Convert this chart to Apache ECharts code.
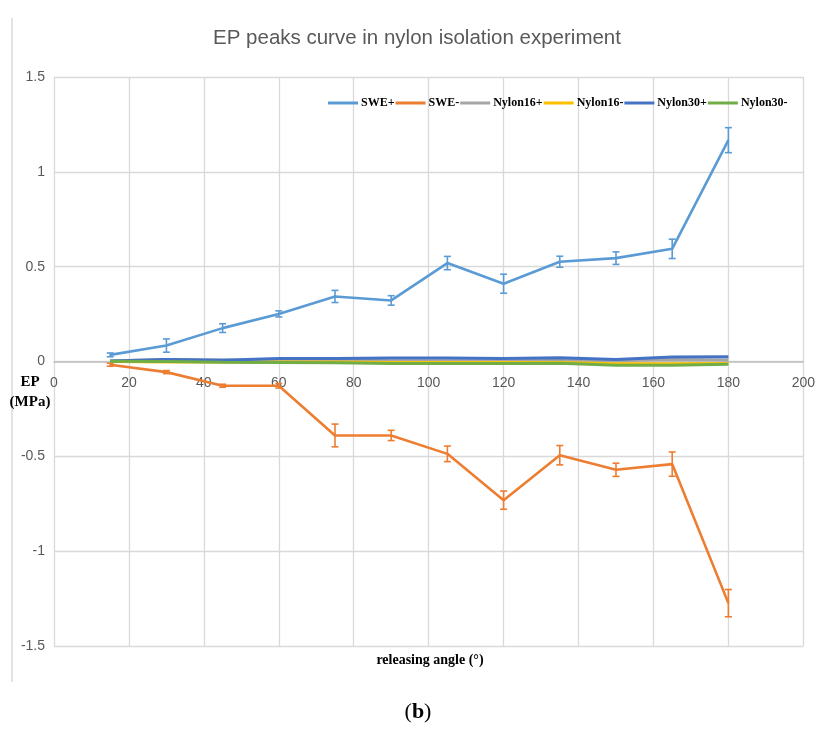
<!DOCTYPE html>
<html>
<head>
<meta charset="utf-8">
<script src="https://cdn.jsdelivr.net/npm/echarts@6/dist/echarts.min.js"></script>
<style>html,body{margin:0;padding:0;background:#fff;}#c{width:818px;height:740px;}</style>
</head>
<body>
<div id="c"></div>
<script>
const angles = [15, 30, 45, 60, 75, 90, 105, 120, 135, 150, 165, 180];
const swePlus = [0.035, 0.084, 0.176, 0.251, 0.343, 0.322, 0.519, 0.410, 0.526, 0.545, 0.594, 1.167];
const swePlusErr = [0.010, 0.035, 0.023, 0.016, 0.032, 0.025, 0.035, 0.050, 0.029, 0.033, 0.051, 0.066];
const sweMinus = [-0.017, -0.056, -0.128, -0.128, -0.390, -0.390, -0.487, -0.731, -0.494, -0.571, -0.541, -1.274];
const sweMinusErr = [0.008, 0.008, 0.008, 0.012, 0.060, 0.027, 0.041, 0.048, 0.051, 0.035, 0.064, 0.072];
const nylon16Plus = [0.002, 0.010, 0.008, 0.006, 0.008, 0.004, 0.004, 0.004, 0.006, 0.004, 0.010, 0.008];
const nylon16Minus = [0.000, -0.002, -0.002, -0.003, -0.003, -0.005, -0.005, -0.005, -0.005, -0.012, -0.012, -0.010];
const nylon30Plus = [0.003, 0.010, 0.006, 0.016, 0.016, 0.018, 0.018, 0.016, 0.020, 0.010, 0.024, 0.025];
const nylon30Minus = [0.001, 0.000, -0.004, -0.005, -0.007, -0.010, -0.010, -0.010, -0.009, -0.020, -0.020, -0.014];
const seriesNames = ['SWE+', 'SWE-', 'Nylon16+', 'Nylon16-', 'Nylon30+', 'Nylon30-'];
const colors = ['#5B9BD5', '#ED7D31', '#A5A5A5', '#FFC000', '#4472C4', '#70AD47'];
const titleText = 'EP peaks curve in nylon isolation experiment';
const xName = 'releasing angle (°)';
const yName = ['EP', '(MPa)'];

const Y_MIN = -1.5, Y_MAX = 1.5;
const GRID_TOP = 77, GRID_BOTTOM = 94, CH = 740;
const plotH = CH - GRID_TOP - GRID_BOTTOM;
const zeroOffset = -plotH * (0 - Y_MIN) / (Y_MAX - Y_MIN);

const pairs = (ys) => angles.map((a, i) => [a, ys[i]]);
const errData = (ys, es) => angles.map((a, i) => [a, ys[i], es[i]]);

function errRender(color) {
  return function (params, api) {
    const x = api.value(0), y = api.value(1), e = api.value(2);
    const top = api.coord([x, y + e]);
    const bot = api.coord([x, y - e]);
    const w = 3.5;
    const st = { stroke: color, lineWidth: 1.6 };
    return {
      type: 'group',
      children: [
        { type: 'line', shape: { x1: top[0], y1: top[1], x2: bot[0], y2: bot[1] }, style: st },
        { type: 'line', shape: { x1: top[0] - w, y1: top[1], x2: top[0] + w, y2: top[1] }, style: st },
        { type: 'line', shape: { x1: bot[0] - w, y1: bot[1], x2: bot[0] + w, y2: bot[1] }, style: st }
      ]
    };
  };
}

const lineData = [swePlus, sweMinus, nylon16Plus, nylon16Minus, nylon30Plus, nylon30Minus];
const series = [];
lineData.forEach((ys, k) => {
  series.push({
    name: seriesNames[k], type: 'line', data: pairs(ys), symbol: 'none',
    color: colors[k],
    lineStyle: { width: k < 2 ? 2.6 : 3, color: colors[k] },
    z: 3 + k, animation: false
  });
});
series.push({ name: 'SWE+ err', type: 'custom', data: errData(swePlus, swePlusErr), renderItem: errRender(colors[0]), z: 3, animation: false });
series.push({ name: 'SWE- err', type: 'custom', data: errData(sweMinus, sweMinusErr), renderItem: errRender(colors[1]), z: 4, animation: false });

const chart = echarts.init(document.getElementById('c'), null, { renderer: 'canvas' });
chart.setOption({
  animation: false,
  backgroundColor: '#fff',
  grid: { left: 54, right: 9, top: GRID_TOP, bottom: GRID_BOTTOM, containLabel: false },
  legend: {
    data: seriesNames, left: 323, top: 92, itemWidth: 30, itemHeight: 3, itemGap: 1,
    icon: 'rect', selectedMode: false,
    textStyle: { fontFamily: 'Liberation Serif', fontWeight: 'bold', fontSize: 12, color: '#000', padding: [0, 0, 0, -2] }
  },
  xAxis: {
    type: 'value', min: 0, max: 200, interval: 20,
    offset: zeroOffset, position: 'bottom',
    axisLine: { show: true, onZero: false, lineStyle: { color: '#BFBFBF', width: 1.5 } },
    axisTick: { show: false },
    axisLabel: { color: '#595959', fontFamily: 'Liberation Sans', fontSize: 14, margin: 15 },
    splitLine: { show: true, lineStyle: { color: '#D9D9D9', width: 1.3 } }
  },
  yAxis: {
    type: 'value', min: Y_MIN, max: Y_MAX, interval: 0.5,
    axisLine: { show: false }, axisTick: { show: false },
    axisLabel: { color: '#595959', fontFamily: 'Liberation Sans', fontSize: 14, margin: 9 },
    splitLine: { show: true, lineStyle: { color: '#D9D9D9', width: 1.3 } }
  },
  graphic: [
    { type: 'line', shape: { x1: 12, y1: 18, x2: 12, y2: 682 }, style: { stroke: '#D0D0D0', lineWidth: 1.2 }, silent: true },
    { type: 'text', x: 417, y: 38, style: { text: titleText, textAlign: 'center', textVerticalAlign: 'middle', fontFamily: 'Liberation Sans', fontSize: 20.5, fill: '#595959' } },
    { type: 'text', x: 30, y: 382, style: { text: yName[0], textAlign: 'center', textVerticalAlign: 'middle', fontFamily: 'Liberation Serif', fontWeight: 'bold', fontSize: 15, fill: '#000' } },
    { type: 'text', x: 30, y: 402, style: { text: yName[1], textAlign: 'center', textVerticalAlign: 'middle', fontFamily: 'Liberation Serif', fontWeight: 'bold', fontSize: 15, fill: '#000' } },
    { type: 'text', x: 430, y: 660, style: { text: xName, textAlign: 'center', textVerticalAlign: 'middle', fontFamily: 'Liberation Serif', fontWeight: 'bold', fontSize: 14, fill: '#000' } },
    { type: 'text', x: 418, y: 712, style: { text: '{n|(}{b|b}{n|)}', textAlign: 'center', textVerticalAlign: 'middle', rich: { n: { fontFamily: 'Liberation Serif', fontSize: 22, fill: '#000' }, b: { fontFamily: 'Liberation Serif', fontWeight: 'bold', fontSize: 22, fill: '#000' } } } }
  ],
  series: series
});
</script>
</body>
</html>
